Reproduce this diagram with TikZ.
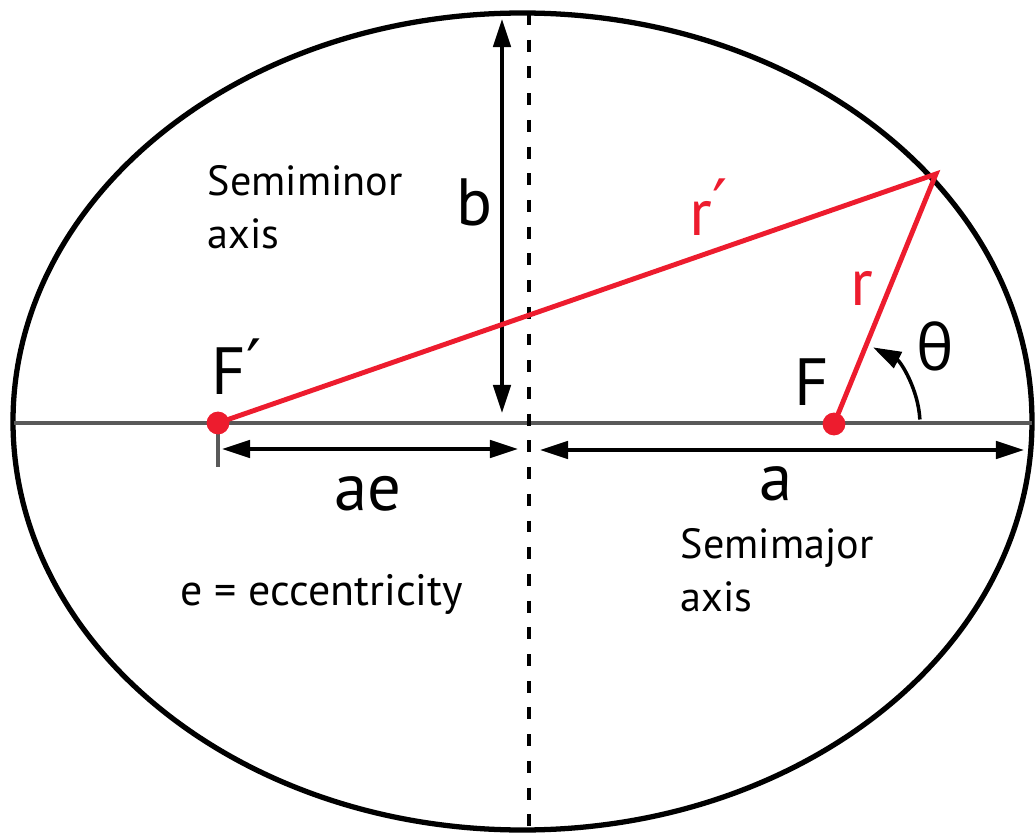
\documentclass[tikz,border=0pt]{standalone}
\usepackage{fontspec}
\setmainfont{PT Sans}
\newfontfamily\greekfont{Open Sans}
\newfontfamily\primefont{DejaVu Sans}
\usetikzlibrary{arrows.meta}
\definecolor{orbitred}{RGB}{237,28,46}
\newcommand{\prm}{\raisebox{2pt}{\primefont\fontsize{19}{22}\selectfont ′}}
\tikzset{
	>={Triangle[length=8pt,width=5pt]},
	dimline/.style={line width=0.9pt, <->},
	biglbl/.style={font=\fontsize{19}{22}\selectfont, inner sep=0pt},
	smalllbl/.style={font=\fontsize{12}{15}\selectfont, align=left, inner sep=0pt},
	focus/.style={circle, fill=orbitred, inner sep=0pt, minimum size=6.5pt},
}
\begin{document}
\begin{tikzpicture}
	\useasboundingbox (0,0) rectangle (10.35,8.36);
	\coordinate (C) at (5.225,4.145);
	\coordinate (axL) at (0.14,4.13);
	\coordinate (axR) at (10.32,4.13);
	\coordinate (dashT) at (5.29,8.23);
	\coordinate (dashB) at (5.29,0.06);
	\coordinate (Fp) at (2.18,4.13);
	\coordinate (F) at (8.34,4.12);
	\coordinate (P) at (9.36,6.62);
	
	% orbit and axes
	\draw[line width=1.5pt] (C) ellipse (5.095 and 4.085);
	\draw[line width=1.1pt, gray!70!black] (axL) -- (axR);
	\draw[line width=1.1pt, dash pattern=on 3.4pt off 4.2pt] (dashT) -- (dashB);
	
	% dimensions
	\coordinate (bT) at (5.02,8.17);
	\coordinate (bB) at (5.02,4.23);
	\draw[dimline] (bT) -- (bB);
	\coordinate (tickT) at (2.18,4.13);
	\coordinate (tickB) at (2.18,3.69);
	\draw[line width=1.1pt, gray!70!black] (tickT) -- (tickB);
	\coordinate (aeL) at (2.22,3.87);
	\coordinate (aeR) at (5.18,3.87);
	\draw[dimline] (aeL) -- (aeR);
	\coordinate (aL) at (5.40,3.86);
	\coordinate (aR) at (10.24,3.86);
	\draw[dimline] (aL) -- (aR);
	
	% radius vectors
	\draw[line width=1.4pt, orbitred] (Fp) -- (P) -- (F);
	\node[focus] (Fpdot) at (Fp) {};
	\node[focus] (Fdot) at (F) {};
	
	% angle
	\draw[line width=1pt, ->] ([shift={(3:0.86)}]F) arc (3:63:0.86);
	
	\node[smalllbl, anchor=north west] (minorlbl) at (2.07,6.71) {Semiminor\\axis};
	\node[smalllbl, anchor=north west] (majorlbl) at (6.80,3.08) {Semimajor\\axis};
	\node[smalllbl, font=\fontsize{12.5}{15}\selectfont, anchor=base west] (ecclbl) at (1.80,2.31) {e = eccentricity};
	\node[biglbl, anchor=base] (blbl) at (4.745,6.11) {b};
	\node[biglbl, anchor=base] (aelbl) at (3.68,3.26) {ae};
	\node[biglbl, anchor=base] (albl) at (7.76,3.36) {a};
	\node[biglbl, anchor=base west] (Fplbl) at (2.11,4.41) {F\prm};
	\node[biglbl, anchor=base] (Flbl) at (8.12,4.31) {F};
	\node[biglbl, anchor=base west, orbitred] (rplbl) at (6.89,6.01) {r\prm};
	\node[biglbl, anchor=base, orbitred] (rlbl) at (8.62,5.31) {r};
	\node[biglbl, anchor=base, font=\greekfont\fontsize{18}{22}\selectfont] (thetalbl) at (9.35,4.66) {θ};
\end{tikzpicture}
\end{document}
